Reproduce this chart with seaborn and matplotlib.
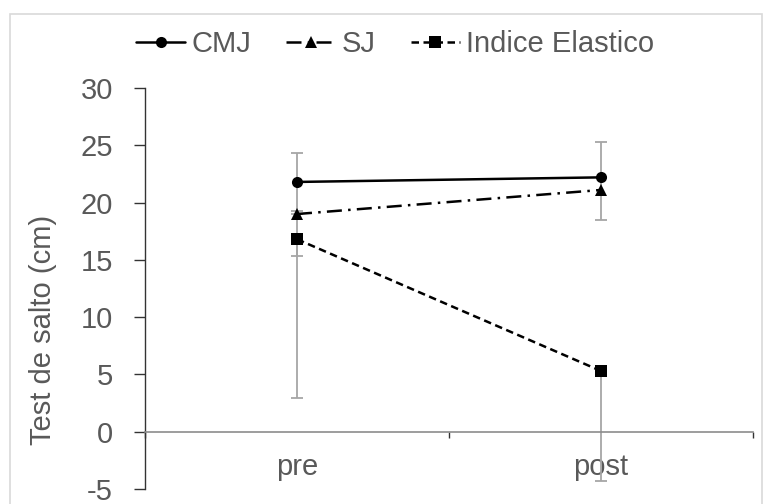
import numpy as np
import pandas as pd
import matplotlib
matplotlib.use("Agg")
import matplotlib.pyplot as plt
import seaborn as sns
from matplotlib.patches import Rectangle

# --- Data ---
momentos = ["pre", "post"]
series = ["CMJ", "SJ", "Indice Elastico"]
cmj = [21.8, 22.2]
sj = [19.0, 21.1]
indice = [16.8, 5.3]
# error bars as (lower, upper)
cmj_err = ([2.5, 3.7], [2.5, 3.1])
sj_err = ([3.7, 0.0], [0.0, 0.0])
indice_err = ([13.9, 9.6], [0.0, 0.0])

y_ticks = [-5, 0, 5, 10, 15, 20, 25, 30]

# --- Long-form table ---
df = pd.DataFrame({
    "pos": [0, 1] * 3,
    "valor": cmj + sj + indice,
    "serie": [s for s in series for _ in momentos],
})

sns.set_theme(style="white")
plt.rcParams["font.family"] = ["Liberation Sans", "DejaVu Sans"]

grey_txt = "#595959"
fs = 21
fig = plt.figure(figsize=(7.63, 5.04), dpi=100)
ax = fig.add_axes([145 / 763, 1 - 489 / 504, 608 / 763, 401 / 504])

# --- Error bars (behind lines) ---
for vals, err in [(cmj, cmj_err), (sj, sj_err), (indice, indice_err)]:
    e = np.array(err)
    for i in range(2):
        lo, hi = e[0, i], e[1, i]
        if lo == 0 and hi == 0:
            continue
        ax.errorbar([i], [vals[i]], yerr=[[lo], [hi]], fmt="none", ecolor="#A6A6A6",
                    elinewidth=1.3, capsize=4, capthick=1.3, zorder=1)

# --- Lines ---
sns.lineplot(data=df, x="pos", y="valor", hue="serie", style="serie",
             hue_order=series, style_order=series,
             palette=["black"] * 3,
             dashes={"CMJ": "", "SJ": (6, 2.5, 1, 2.5), "Indice Elastico": (3, 1.8)},
             markers={"CMJ": "o", "SJ": "^", "Indice Elastico": "s"},
             markersize=8, markeredgewidth=0, linewidth=1.8, ax=ax, zorder=3)

# --- Axes styling ---
ax.set_xlim(-0.5, 1.5)
ax.set_ylim(-5, 30)
ax.set_yticks(y_ticks)
ax.set_yticklabels([str(t) for t in y_ticks])
ax.tick_params(axis="y", length=8, width=1, color="#333333", direction="out", left=True,
               pad=15, labelsize=fs, labelcolor=grey_txt)

ax.set_xticks([-0.5, 0.5, 1.5])
ax.set_xticklabels([])
ax.set_xticks([0, 1], minor=True)
ax.set_xticklabels(momentos, minor=True)
ax.tick_params(axis="x", which="major", length=4, width=1, color="#333333", direction="out", bottom=True)
ax.tick_params(axis="x", which="minor", length=0, pad=15, labelsize=fs, labelcolor=grey_txt)

for s in ["top", "right"]:
    ax.spines[s].set_visible(False)
ax.spines["left"].set_color("#333333")
ax.spines["left"].set_linewidth(1)
ax.spines["bottom"].set_position(("data", 0))
ax.spines["bottom"].set_color("#8C8C8C")
ax.spines["bottom"].set_linewidth(1.2)

ax.set_xlabel("")
ax.set_ylabel("Test de salto (cm)", color=grey_txt, fontsize=fs)
ax.yaxis.set_label_coords((57 - 145) / 608, (489 - 330) / 401)

# --- Legend at top ---
handles, labels = ax.get_legend_handles_labels()
ax.legend_.remove()
fig.legend(handles, labels, loc="center", bbox_to_anchor=(395 / 763, 1 - 44 / 504),
           ncol=3, frameon=False, fontsize=fs, handlelength=1.7, handletextpad=0.2,
           columnspacing=1.2, labelcolor=grey_txt)

# --- Chart area border ---
fig.patches.append(Rectangle((10 / 763, -0.1), 752 / 763, 1.1 - 14 / 504,
                             transform=fig.transFigure, fill=False,
                             edgecolor="#D9D9D9", linewidth=1.2))

fig.savefig("out.png", dpi=100)
